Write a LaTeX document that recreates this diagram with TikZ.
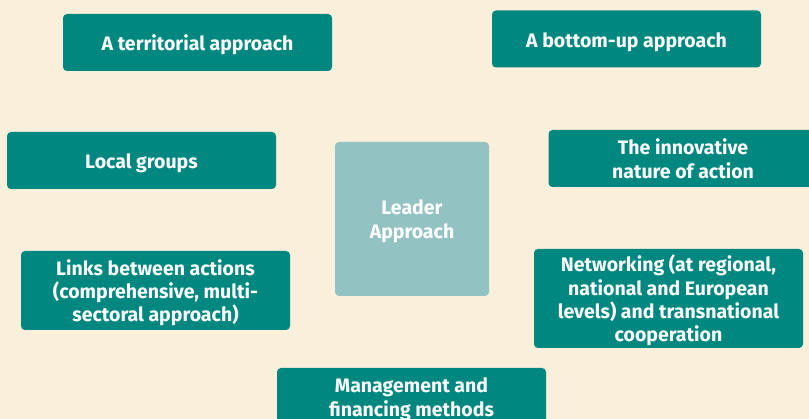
\documentclass[tikz,border=0pt]{standalone}
\usepackage{fontspec}
\setmainfont{Fira Sans}
\definecolor{cream}{HTML}{FAEFDA}
\definecolor{tealbox}{HTML}{00877F}
\definecolor{paletealbox}{HTML}{93C2C3}
\begin{document}
\begin{tikzpicture}[x=1pt,y=-1pt,
  box/.style={fill=tealbox, text=white, rounded corners=4pt, inner sep=0pt,
    minimum width=269pt, minimum height=57pt, align=center, text depth=0pt,
    font=\fontsize{19.5}{23.4}\selectfont\bfseries,
    execute at begin node={\rule{0pt}{17pt}}},
  centrebox/.style={box, fill=paletealbox, minimum width=154pt, minimum height=154pt}]

\useasboundingbox (0,0) rectangle (809,419);
\clip (0,0) rectangle (809,419);
\fill[cream] (0,0) rectangle (809,419);

\node[centrebox] (leader) at (412,219) {Leader\\Approach};

\node[box] (territorial) at (197.5,42.5) {A territorial approach};
\node[box] (bottomup) at (626.5,39) {A bottom-up approach};
\node[box] (localgroups) at (141.5,160.5) {Local groups};
\node[box] (innovative) at (683,158.5) {The innovative\\nature of action};
\node[box, minimum height=79pt] (links) at (155.5,290.5) {Links between actions\\(comprehensive, multi-\\sectoral approach)};
\node[box, minimum height=99pt] (networking) at (668.5,298.5) {Networking (at regional,\\national and European\\levels) and transnational\\cooperation};
\node[box, minimum height=58pt] (management) at (411.5,397) {Management and\\financing methods};

\end{tikzpicture}
\end{document}
